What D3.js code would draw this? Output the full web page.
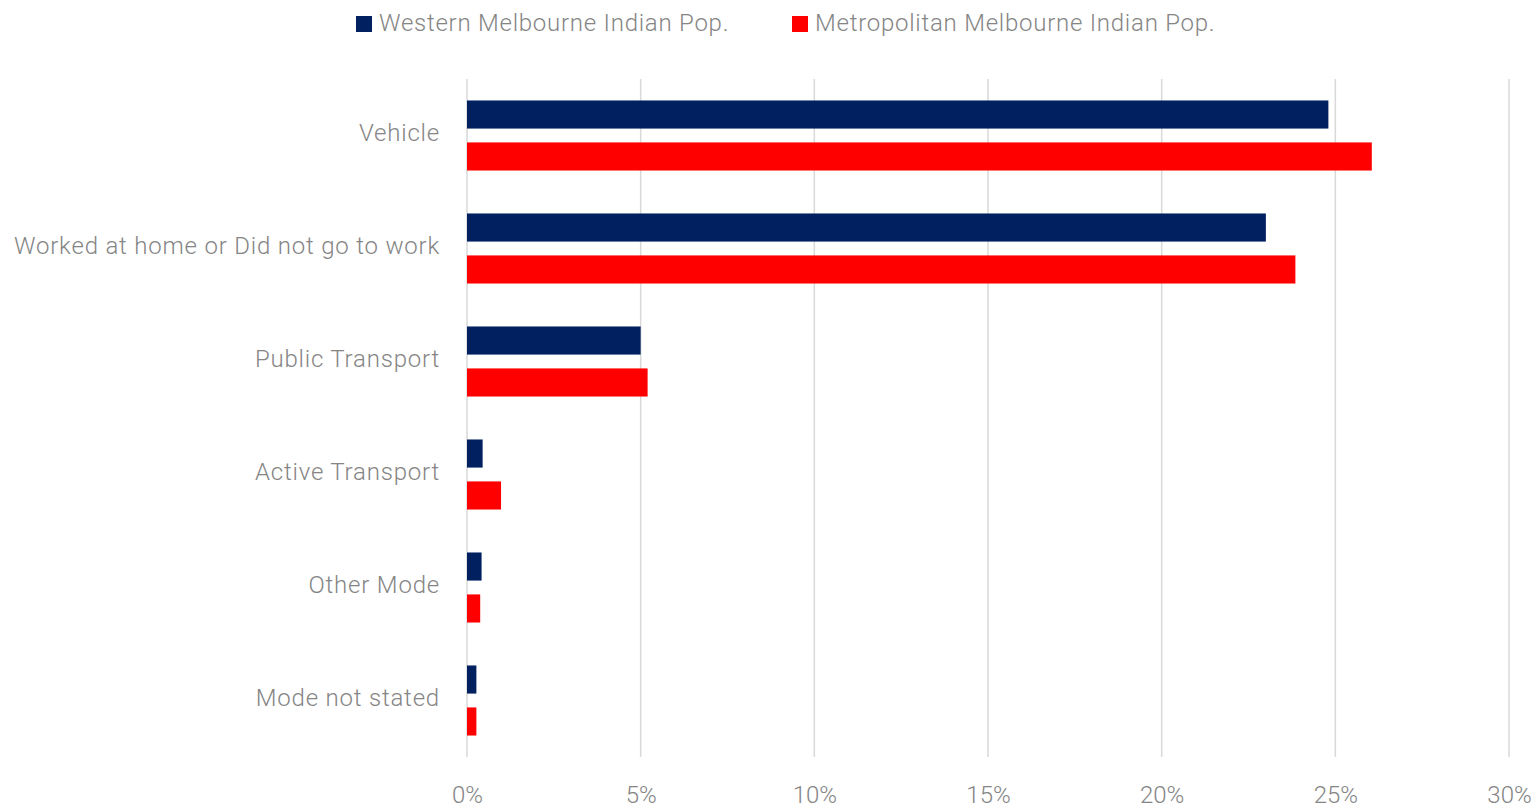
<!DOCTYPE html>
<html lang="en">
<head>
    <meta charset="UTF-8">
    <title>Method of Travel to Work</title>
    <script src="https://d3js.org/d3.v7.min.js"></script>
    <style>
        body {
            margin: 0;
            background: #ffffff;
            font-family: Roboto, 'Noto Sans', sans-serif;
            font-weight: 300;
        }
        svg text {
            fill: #858585;
        }
        .grid line {
            stroke: #d9d9d9;
            stroke-width: 1.5px;
        }
    </style>
</head>
<body>
    <svg id="chart"></svg>

    <script>
        const categories = ["Vehicle", "Worked at home or Did not go to work", "Public Transport",
            "Active Transport", "Other Mode", "Mode not stated"];
        const seriesNames = ["Western Melbourne Indian Pop.", "Metropolitan Melbourne Indian Pop."];
        const western = [24.8, 23.0, 5.0, 0.45, 0.42, 0.27];
        const metro = [26.05, 23.85, 5.2, 0.98, 0.38, 0.27];
        const xTicks = [0, 5, 10, 15, 20, 25, 30];
        const colors = ["#002060", "#ff0000"];

        const width = 1537;
        const height = 808;
        const margin = { top: 79, right: 28, bottom: 51, left: 467 };

        const svg = d3.select("#chart")
            .attr("width", width)
            .attr("height", height);

        const x = d3.scaleLinear()
            .domain([0, 30])
            .range([margin.left, width - margin.right]);

        const y = d3.scaleBand()
            .domain(categories)
            .range([margin.top, height - margin.bottom])
            .paddingInner(0.38)
            .paddingOuter(0.19);

        const ySub = d3.scaleBand()
            .domain([0, 1])
            .range([0, y.bandwidth()])
            .paddingInner(0.33);

        // gridlines
        svg.append("g")
            .attr("class", "grid")
            .selectAll("line")
            .data(xTicks)
            .join("line")
            .attr("x1", d => x(d))
            .attr("x2", d => x(d))
            .attr("y1", margin.top)
            .attr("y2", height - margin.bottom);

        // bars
        const rows = categories.map((c, i) => ({ cat: c, vals: [western[i], metro[i]] }));
        const groups = svg.append("g")
            .selectAll("g")
            .data(rows)
            .join("g")
            .attr("transform", d => `translate(0,${y(d.cat)})`);

        groups.selectAll("rect")
            .data(d => d.vals.map((v, k) => ({ v, k })))
            .join("rect")
            .attr("x", x(0))
            .attr("y", d => ySub(d.k))
            .attr("width", d => x(d.v) - x(0))
            .attr("height", ySub.bandwidth())
            .attr("fill", d => colors[d.k]);

        // category labels
        const yAxis = svg.append("g")
            .attr("transform", `translate(${x(0)},-2)`)
            .call(d3.axisLeft(y).tickSize(0).tickPadding(27));
        yAxis.select(".domain").remove();
        yAxis.selectAll("text")
            .style("font-family", "Roboto, sans-serif")
            .style("font-weight", 300)
            .style("font-size", "24px")
            .style("letter-spacing", "0.8px")
            .attr("fill", "#858585");

        // x axis labels
        const xAxis = svg.append("g")
            .attr("transform", `translate(0,${height - margin.bottom})`)
            .call(d3.axisBottom(x).tickValues(xTicks).tickFormat(d => d + "%").tickSize(0).tickPadding(29));
        xAxis.select(".domain").remove();
        xAxis.selectAll("text")
            .style("font-family", "Roboto, sans-serif")
            .style("font-weight", 300)
            .style("font-size", "24px")
            .attr("fill", "#858585");

        // legend
        const legendX = [356, 792];
        const legend = svg.append("g")
            .selectAll("g")
            .data(seriesNames)
            .join("g")
            .attr("transform", (d, i) => `translate(${legendX[i]},15)`);
        legend.append("rect")
            .attr("width", 16)
            .attr("height", 16)
            .attr("y", 1)
            .attr("fill", (d, i) => colors[i]);
        legend.append("text")
            .attr("x", 23)
            .attr("y", 8)
            .attr("dy", "0.35em")
            .style("font-size", "24px")
            .style("letter-spacing", "0.75px")
            .text(d => d);
    </script>
</body>
</html>
